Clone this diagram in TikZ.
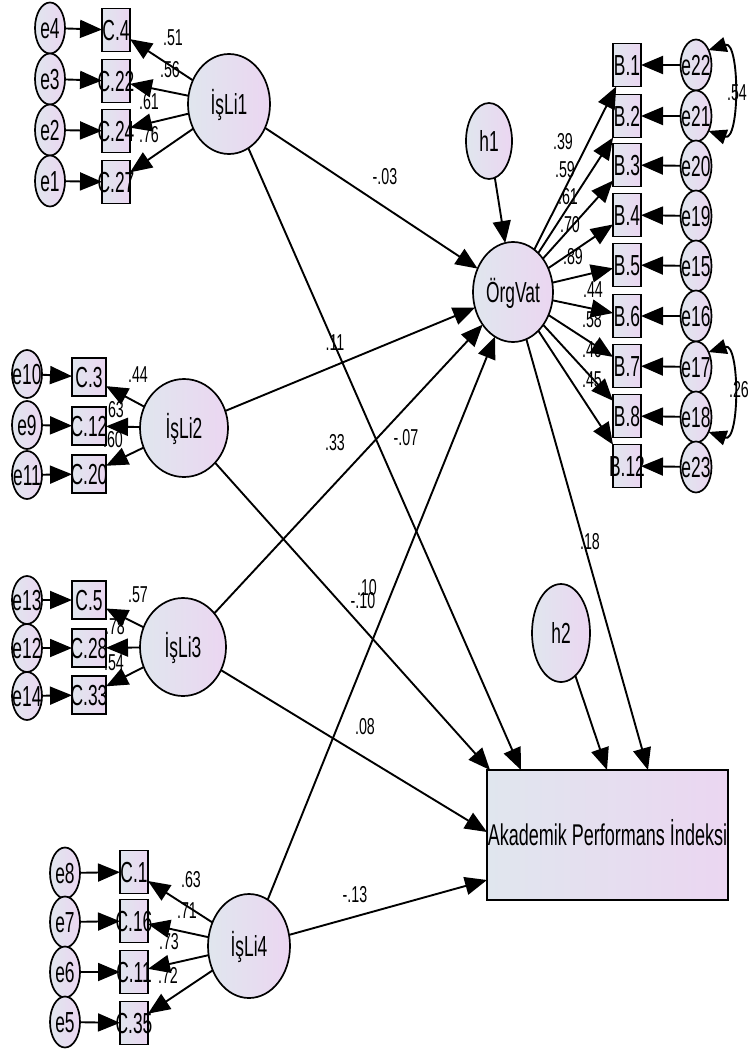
\documentclass[tikz,border=0pt]{standalone}
\usepackage{fontspec}
\setmainfont{Liberation Sans}
\usepackage{graphicx}
\usetikzlibrary{shapes.geometric, arrows.meta}
\definecolor{cA}{HTML}{E0E6EE}
\definecolor{cB}{HTML}{EBD6F1}
\newcommand{\zt}[1]{\smash{\makebox[0pt]{\raisebox{-0.36em}{\scalebox{0.6}[1]{#1}}}}}
\newcommand{\lt}[1]{\scalebox{0.62}[1]{#1}}
\begin{document}
\begin{tikzpicture}[x=1pt,y=-1pt,
 shp/.style={draw=black, line width=1.7pt, left color=cA, right color=cB, inner sep=0pt, outer sep=0pt, font=\fontsize{29}{30}\selectfont},
 lat/.style={shp, ellipse},
 obs/.style={shp, rectangle},
 err/.style={lat, minimum width=30pt, minimum height=51pt},
 errb/.style={lat, minimum width=30pt, minimum height=48pt},
 errr/.style={lat, minimum width=31pt, minimum height=51pt},
 boxa/.style={obs, minimum width=28pt, minimum height=43pt},
 boxb/.style={obs, minimum width=34pt, minimum height=38pt},
 arr/.style={line width=1.9pt, -{Triangle[length=22pt,width=18pt]}},
 cov/.style={line width=1.9pt, {Triangle[length=18pt,width=15pt]}-{Triangle[length=18pt,width=15pt]}},
 lab/.style={font=\fontsize{23}{24}\selectfont, inner sep=0pt},
]
\path[use as bounding box] (0,0) rectangle (747,1054);

% ---------- cluster 1
\node[lat, minimum width=82pt, minimum height=100pt] (i1) at (229,104) {\zt{İşLi1}};
\node[err] (e4) at (50,28) {\zt{e4}};
\node[err] (e3) at (50,79) {\zt{e3}};
\node[err] (e2) at (50,130) {\zt{e2}};
\node[err] (e1) at (50,181) {\zt{e1}};
\node[boxa] (c4) at (116,30) {\zt{C.4}};
\node[boxa] (c22) at (116,81) {\zt{C.22}};
\node[boxa] (c24) at (116,131) {\zt{C.24}};
\node[boxa] (c27) at (116,182) {\zt{C.27}};

% ---------- cluster 2
\node[lat, minimum width=88pt, minimum height=98pt] (i2) at (184,428) {\zt{İşLi2}};
\node[errb] (e10) at (27,374) {\zt{e10}};
\node[errb] (e9) at (27,425) {\zt{e9}};
\node[errb] (e11) at (27,475) {\zt{e11}};
\node[boxb] (c3) at (89,377) {\zt{C.3}};
\node[boxb] (c12) at (89,426) {\zt{C.12}};
\node[boxb] (c20) at (89,474) {\zt{C.20}};

% ---------- cluster 3
\node[lat, minimum width=86pt, minimum height=98pt] (i3) at (183,647) {\zt{İşLi3}};
\node[errb] (e13) at (27,600) {\zt{e13}};
\node[errb] (e12) at (27,648) {\zt{e12}};
\node[errb] (e14) at (27,696) {\zt{e14}};
\node[boxb] (c5) at (89,600) {\zt{C.5}};
\node[boxb] (c28) at (89,648) {\zt{C.28}};
\node[boxb] (c33) at (89,695) {\zt{C.33}};

% ---------- cluster 4
\node[lat, minimum width=82pt, minimum height=104pt] (i4) at (249,946) {\zt{İşLi4}};
\node[err] (e8) at (65,873) {\zt{e8}};
\node[err] (e7) at (65,922) {\zt{e7}};
\node[err] (e6) at (65,972) {\zt{e6}};
\node[err] (e5) at (65,1022) {\zt{e5}};
\node[boxa] (c1) at (134,872) {\zt{C.1}};
\node[boxa] (c16) at (134,921) {\zt{C.16}};
\node[boxa] (c11) at (134,972) {\zt{C.11}};
\node[boxa] (c35) at (134,1023) {\zt{C.35}};

% ---------- right side
\node[lat, minimum width=80pt, minimum height=100pt] (ov) at (513,292) {\zt{ÖrgVat}};
\node[lat, minimum width=46pt, minimum height=76pt] (h1) at (489,141) {\zt{h1}};
\node[lat, minimum width=58pt, minimum height=98pt] (h2) at (561,633) {\zt{h2}};
\node[obs, minimum width=241pt, minimum height=130pt, font=\fontsize{30}{31}\selectfont] (ak) at (607.5,835) {\zt{Akademik Performans İndeksi}};

\node[boxa] (b1) at (627,65) {\zt{B.1}};
\node[boxa] (b2) at (627,116) {\zt{B.2}};
\node[boxa] (b3) at (627,165) {\zt{B.3}};
\node[boxa] (b4) at (627,215) {\zt{B.4}};
\node[boxa] (b5) at (627,265) {\zt{B.5}};
\node[boxa] (b6) at (627,316) {\zt{B.6}};
\node[boxa] (b7) at (627,366) {\zt{B.7}};
\node[boxa] (b8) at (627,416) {\zt{B.8}};
\node[boxa] (b12) at (627,466) {\zt{B.12}};

\node[errr] (e22) at (696,65) {\zt{e22}};
\node[errr] (e21) at (696,116) {\zt{e21}};
\node[errr] (e20) at (696,166) {\zt{e20}};
\node[errr] (e19) at (696,216) {\zt{e19}};
\node[errr] (e15) at (696,266) {\zt{e15}};
\node[errr] (e16) at (696,316) {\zt{e16}};
\node[errr] (e17) at (696,367) {\zt{e17}};
\node[errr] (e18) at (696,417) {\zt{e18}};
\node[errr] (e23) at (696,467) {\zt{e23}};

% ---------- measurement arrows
\foreach \e/\c in {e4/c4,e3/c22,e2/c24,e1/c27,e10/c3,e9/c12,e11/c20,e13/c5,e12/c28,e14/c33,e8/c1,e7/c16,e6/c11,e5/c35}
  \draw[arr] (\e) -- (\c);
\foreach \c in {c4,c22,c24,c27} \draw[arr] (i1) -- (\c);
\foreach \c in {c3,c12,c20} \draw[arr] (i2) -- (\c);
\foreach \c in {c5,c28,c33} \draw[arr] (i3) -- (\c);
\foreach \c in {c1,c16,c11,c35} \draw[arr] (i4) -- (\c);
\foreach \b in {b1,b2,b3,b4,b5,b6,b7,b8,b12} \draw[arr] (ov) -- (\b);
\foreach \e/\b in {e22/b1,e21/b2,e20/b3,e19/b4,e15/b5,e16/b6,e17/b7,e18/b8,e23/b12}
  \draw[arr] (\e) -- (\b);

% ---------- covariances
\draw[cov] (e22.50) .. controls (740,40) and (740,142) .. (e21.-50);
\draw[cov] (e17.50) .. controls (740,342) and (740,443) .. (e18.-50);

% ---------- structural arrows
\coordinate (akA) at (490,770);
\coordinate (akB) at (521,770);
\coordinate (akC) at (607,770);
\coordinate (akD) at (648,770);
\coordinate (akE) at (487,832);
\coordinate (akF) at (487,880);
\draw[arr] (h1) -- (ov);
\draw[arr] (i1) -- (ov);
\draw[arr] (i2) -- (ov);
\draw[arr] (i3) -- (ov);
\draw[arr] (i4) -- (ov);
\draw[arr] (i1) -- (akB);
\draw[arr] (i2) -- (akA);
\draw[arr] (i3) -- (akE);
\draw[arr] (i4) -- (akF);
\draw[arr] (h2) -- (akC);
\draw[arr] (ov) -- (akD);

% ---------- labels
\node[lab] (l1) at (173,38) {\lt{.51}};
\node[lab] (l2) at (170,70) {\lt{.56}};
\node[lab] (l3) at (149,102) {\lt{.61}};
\node[lab] (l4) at (149,135) {\lt{.76}};
\node[lab] (l5) at (138,375) {\lt{.44}};
\node[lab] (l6) at (114,410) {\lt{.63}};
\node[lab] (l7) at (113,440) {\lt{.60}};
\node[lab] (l8) at (138,595) {\lt{.57}};
\node[lab] (l9) at (115,627) {\lt{.78}};
\node[lab] (l10) at (114,663) {\lt{.54}};
\node[lab] (l11) at (191,880) {\lt{.63}};
\node[lab] (l12) at (187,911) {\lt{.71}};
\node[lab] (l13) at (169,942) {\lt{.73}};
\node[lab] (l14) at (168,975) {\lt{.72}};
\node[lab] (l15) at (563,142) {\lt{.39}};
\node[lab] (l16) at (565,170) {\lt{.59}};
\node[lab] (l17) at (568,197) {\lt{.61}};
\node[lab] (l18) at (570,225) {\lt{.70}};
\node[lab] (l19) at (573,257) {\lt{.89}};
\node[lab] (l20) at (593,290) {\lt{.44}};
\node[lab] (l21) at (592,320) {\lt{.58}};
\node[lab] (l22) at (592,350) {\lt{.46}};
\node[lab] (l23) at (592,380) {\lt{.45}};
\node[lab] (l24) at (737,93) {\lt{.54}};
\node[lab] (l25) at (739,390) {\lt{.26}};
\node[lab] (l26) at (385,177) {\lt{-.03}};
\node[lab] (l27) at (335,343) {\lt{.11}};
\node[lab] (l28) at (335,443) {\lt{.33}};
\node[lab] (l29) at (406,438) {\lt{-.07}};
\node[lab] (l30) at (367,588) {\lt{.10}};
\node[lab] (l31) at (363,601) {\lt{-.10}};
\node[lab] (l32) at (590,542) {\lt{.18}};
\node[lab] (l33) at (365,727) {\lt{.08}};
\node[lab] (l34) at (355,895) {\lt{-.13}};
\end{tikzpicture}
\end{document}
